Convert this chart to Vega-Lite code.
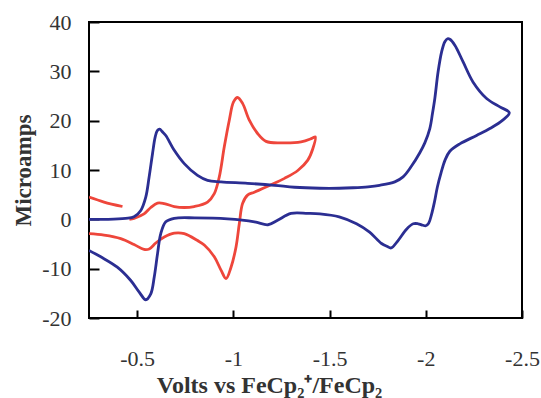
{
  "$schema": "https://vega.github.io/schema/vega-lite/v6.json",
  "autosize": {"type": "none"},
  "padding": {"left": 89, "top": 22, "right": 19, "bottom": 80},
  "width": 433,
  "height": 296,
  "background": "white",
  "config": {
    "view": {"stroke": "#000000", "strokeWidth": 2},
    "axis": {
      "labelFont": "Liberation Serif",
      "labelFontSize": 22,
      "labelColor": "#333333",
      "titleFont": "Liberation Serif",
      "titleFontWeight": "bold",
      "titleColor": "#333333",
      "grid": false,
      "domain": false,
      "tickColor": "#000000",
      "tickWidth": 2
    }
  },
  "data": {
    "values": [
      {"s": "blue", "seg": "b", "o": 1, "v": -0.25, "i": 0.0},
      {"s": "blue", "seg": "b", "o": 2, "v": -0.35, "i": 0.0},
      {"s": "blue", "seg": "b", "o": 3, "v": -0.44, "i": 0.2},
      {"s": "blue", "seg": "b", "o": 4, "v": -0.484, "i": 0.5},
      {"s": "blue", "seg": "b", "o": 5, "v": -0.519, "i": 1.8},
      {"s": "blue", "seg": "b", "o": 6, "v": -0.545, "i": 4.5},
      {"s": "blue", "seg": "b", "o": 7, "v": -0.5625, "i": 8.6},
      {"s": "blue", "seg": "b", "o": 8, "v": -0.58, "i": 13.3},
      {"s": "blue", "seg": "b", "o": 9, "v": -0.594, "i": 16.7},
      {"s": "blue", "seg": "b", "o": 10, "v": -0.605, "i": 18.0},
      {"s": "blue", "seg": "b", "o": 11, "v": -0.617, "i": 18.3},
      {"s": "blue", "seg": "b", "o": 12, "v": -0.63, "i": 17.8},
      {"s": "blue", "seg": "b", "o": 13, "v": -0.649, "i": 17.0},
      {"s": "blue", "seg": "b", "o": 14, "v": -0.693, "i": 14.0},
      {"s": "blue", "seg": "b", "o": 15, "v": -0.745, "i": 11.3},
      {"s": "blue", "seg": "b", "o": 16, "v": -0.814, "i": 8.9},
      {"s": "blue", "seg": "b", "o": 17, "v": -0.866, "i": 7.9},
      {"s": "blue", "seg": "b", "o": 18, "v": -0.936, "i": 7.6},
      {"s": "blue", "seg": "b", "o": 19, "v": -1.074, "i": 7.3},
      {"s": "blue", "seg": "b", "o": 20, "v": -1.214, "i": 6.9},
      {"s": "blue", "seg": "b", "o": 21, "v": -1.318, "i": 6.5},
      {"s": "blue", "seg": "b", "o": 22, "v": -1.45, "i": 6.3},
      {"s": "blue", "seg": "b", "o": 23, "v": -1.55, "i": 6.3},
      {"s": "blue", "seg": "b", "o": 24, "v": -1.622, "i": 6.4},
      {"s": "blue", "seg": "b", "o": 25, "v": -1.7, "i": 6.6},
      {"s": "blue", "seg": "b", "o": 26, "v": -1.76, "i": 6.9},
      {"s": "blue", "seg": "b", "o": 27, "v": -1.839, "i": 7.6},
      {"s": "blue", "seg": "b", "o": 28, "v": -1.882, "i": 8.6},
      {"s": "blue", "seg": "b", "o": 29, "v": -1.926, "i": 10.8},
      {"s": "blue", "seg": "b", "o": 30, "v": -1.969, "i": 13.5},
      {"s": "blue", "seg": "b", "o": 31, "v": -1.995, "i": 15.5},
      {"s": "blue", "seg": "b", "o": 32, "v": -2.021, "i": 18.4},
      {"s": "blue", "seg": "b", "o": 33, "v": -2.035, "i": 21.5},
      {"s": "blue", "seg": "b", "o": 34, "v": -2.047, "i": 24.5},
      {"s": "blue", "seg": "b", "o": 35, "v": -2.064, "i": 29.9},
      {"s": "blue", "seg": "b", "o": 36, "v": -2.082, "i": 33.9},
      {"s": "blue", "seg": "b", "o": 37, "v": -2.099, "i": 36.0},
      {"s": "blue", "seg": "b", "o": 38, "v": -2.113, "i": 36.6},
      {"s": "blue", "seg": "b", "o": 39, "v": -2.125, "i": 36.5},
      {"s": "blue", "seg": "b", "o": 40, "v": -2.151, "i": 35.3},
      {"s": "blue", "seg": "b", "o": 41, "v": -2.194, "i": 31.9},
      {"s": "blue", "seg": "b", "o": 42, "v": -2.246, "i": 27.8},
      {"s": "blue", "seg": "b", "o": 43, "v": -2.316, "i": 24.5},
      {"s": "blue", "seg": "b", "o": 44, "v": -2.385, "i": 22.8},
      {"s": "blue", "seg": "b", "o": 45, "v": -2.434, "i": 21.6},
      {"s": "blue", "seg": "b", "o": 46, "v": -2.4, "i": 20.1},
      {"s": "blue", "seg": "b", "o": 47, "v": -2.333, "i": 18.4},
      {"s": "blue", "seg": "b", "o": 48, "v": -2.264, "i": 17.0},
      {"s": "blue", "seg": "b", "o": 49, "v": -2.177, "i": 15.3},
      {"s": "blue", "seg": "b", "o": 50, "v": -2.125, "i": 13.8},
      {"s": "blue", "seg": "b", "o": 51, "v": -2.1, "i": 12.0},
      {"s": "blue", "seg": "b", "o": 52, "v": -2.08, "i": 9.5},
      {"s": "blue", "seg": "b", "o": 53, "v": -2.06, "i": 6.5},
      {"s": "blue", "seg": "b", "o": 54, "v": -2.045, "i": 3.5},
      {"s": "blue", "seg": "b", "o": 55, "v": -2.03, "i": 1.0},
      {"s": "blue", "seg": "b", "o": 56, "v": -2.015, "i": -0.8},
      {"s": "blue", "seg": "b", "o": 57, "v": -2.0, "i": -1.3},
      {"s": "blue", "seg": "b", "o": 58, "v": -1.985, "i": -1.2},
      {"s": "blue", "seg": "b", "o": 59, "v": -1.96, "i": -0.9},
      {"s": "blue", "seg": "b", "o": 60, "v": -1.935, "i": -0.9},
      {"s": "blue", "seg": "b", "o": 61, "v": -1.9, "i": -2.0},
      {"s": "blue", "seg": "b", "o": 62, "v": -1.856, "i": -4.3},
      {"s": "blue", "seg": "b", "o": 63, "v": -1.82, "i": -5.8},
      {"s": "blue", "seg": "b", "o": 64, "v": -1.8, "i": -5.5},
      {"s": "blue", "seg": "b", "o": 65, "v": -1.77, "i": -4.9},
      {"s": "blue", "seg": "b", "o": 66, "v": -1.708, "i": -2.6},
      {"s": "blue", "seg": "b", "o": 67, "v": -1.64, "i": -0.9},
      {"s": "blue", "seg": "b", "o": 68, "v": -1.55, "i": 0.5},
      {"s": "blue", "seg": "b", "o": 69, "v": -1.45, "i": 1.1},
      {"s": "blue", "seg": "b", "o": 70, "v": -1.387, "i": 1.2},
      {"s": "blue", "seg": "b", "o": 71, "v": -1.3, "i": 1.2},
      {"s": "blue", "seg": "b", "o": 72, "v": -1.23, "i": -0.2},
      {"s": "blue", "seg": "b", "o": 73, "v": -1.18, "i": -1.1},
      {"s": "blue", "seg": "b", "o": 74, "v": -1.11, "i": -0.5},
      {"s": "blue", "seg": "b", "o": 75, "v": -0.97, "i": 0.1},
      {"s": "blue", "seg": "b", "o": 76, "v": -0.8, "i": 0.3},
      {"s": "blue", "seg": "b", "o": 77, "v": -0.693, "i": 0.2},
      {"s": "blue", "seg": "b", "o": 78, "v": -0.649, "i": -0.5},
      {"s": "blue", "seg": "b", "o": 79, "v": -0.623, "i": -2.9},
      {"s": "blue", "seg": "b", "o": 80, "v": -0.606, "i": -7.0},
      {"s": "blue", "seg": "b", "o": 81, "v": -0.589, "i": -11.7},
      {"s": "blue", "seg": "b", "o": 82, "v": -0.571, "i": -15.1},
      {"s": "blue", "seg": "b", "o": 83, "v": -0.545, "i": -16.3},
      {"s": "blue", "seg": "b", "o": 84, "v": -0.51, "i": -14.7},
      {"s": "blue", "seg": "b", "o": 85, "v": -0.467, "i": -12.4},
      {"s": "blue", "seg": "b", "o": 86, "v": -0.397, "i": -9.7},
      {"s": "blue", "seg": "b", "o": 87, "v": -0.311, "i": -7.6},
      {"s": "blue", "seg": "b", "o": 88, "v": -0.25, "i": -6.3},

      {"s": "red", "seg": "ra", "o": 1, "v": -0.25, "i": 4.5},
      {"s": "red", "seg": "ra", "o": 2, "v": -0.328, "i": 3.5},
      {"s": "red", "seg": "ra", "o": 3, "v": -0.424, "i": 2.6},

      {"s": "red", "seg": "rb", "o": 1, "v": -0.46, "i": 0.0},
      {"s": "red", "seg": "rb", "o": 2, "v": -0.484, "i": 0.2},
      {"s": "red", "seg": "rb", "o": 3, "v": -0.536, "i": 1.1},
      {"s": "red", "seg": "rb", "o": 4, "v": -0.571, "i": 2.4},
      {"s": "red", "seg": "rb", "o": 5, "v": -0.606, "i": 3.3},
      {"s": "red", "seg": "rb", "o": 6, "v": -0.641, "i": 3.2},
      {"s": "red", "seg": "rb", "o": 7, "v": -0.693, "i": 2.6},
      {"s": "red", "seg": "rb", "o": 8, "v": -0.745, "i": 2.4},
      {"s": "red", "seg": "rb", "o": 9, "v": -0.797, "i": 2.6},
      {"s": "red", "seg": "rb", "o": 10, "v": -0.866, "i": 3.5},
      {"s": "red", "seg": "rb", "o": 11, "v": -0.901, "i": 5.2},
      {"s": "red", "seg": "rb", "o": 12, "v": -0.927, "i": 8.6},
      {"s": "red", "seg": "rb", "o": 13, "v": -0.953, "i": 14.7},
      {"s": "red", "seg": "rb", "o": 14, "v": -0.979, "i": 20.1},
      {"s": "red", "seg": "rb", "o": 15, "v": -1.001, "i": 23.8},
      {"s": "red", "seg": "rb", "o": 16, "v": -1.022, "i": 24.7},
      {"s": "red", "seg": "rb", "o": 17, "v": -1.048, "i": 23.5},
      {"s": "red", "seg": "rb", "o": 18, "v": -1.083, "i": 20.1},
      {"s": "red", "seg": "rb", "o": 19, "v": -1.126, "i": 17.4},
      {"s": "red", "seg": "rb", "o": 20, "v": -1.17, "i": 15.8},
      {"s": "red", "seg": "rb", "o": 21, "v": -1.248, "i": 15.5},
      {"s": "red", "seg": "rb", "o": 22, "v": -1.352, "i": 15.7},
      {"s": "red", "seg": "rb", "o": 23, "v": -1.408, "i": 16.4},
      {"s": "red", "seg": "rb", "o": 24, "v": -1.426, "i": 16.7},
      {"s": "red", "seg": "rb", "o": 25, "v": -1.413, "i": 14.3},
      {"s": "red", "seg": "rb", "o": 26, "v": -1.387, "i": 12.0},
      {"s": "red", "seg": "rb", "o": 27, "v": -1.335, "i": 9.9},
      {"s": "red", "seg": "rb", "o": 28, "v": -1.266, "i": 8.3},
      {"s": "red", "seg": "rb", "o": 29, "v": -1.196, "i": 7.0},
      {"s": "red", "seg": "rb", "o": 30, "v": -1.109, "i": 5.5},
      {"s": "red", "seg": "rb", "o": 31, "v": -1.074, "i": 4.9},
      {"s": "red", "seg": "rb", "o": 32, "v": -1.048, "i": 3.2},
      {"s": "red", "seg": "rb", "o": 33, "v": -1.031, "i": -0.9},
      {"s": "red", "seg": "rb", "o": 34, "v": -1.014, "i": -5.6},
      {"s": "red", "seg": "rb", "o": 35, "v": -0.988, "i": -9.7},
      {"s": "red", "seg": "rb", "o": 36, "v": -0.962, "i": -12.0},
      {"s": "red", "seg": "rb", "o": 37, "v": -0.936, "i": -10.3},
      {"s": "red", "seg": "rb", "o": 38, "v": -0.901, "i": -7.6},
      {"s": "red", "seg": "rb", "o": 39, "v": -0.849, "i": -5.2},
      {"s": "red", "seg": "rb", "o": 40, "v": -0.814, "i": -4.3},
      {"s": "red", "seg": "rb", "o": 41, "v": -0.745, "i": -2.9},
      {"s": "red", "seg": "rb", "o": 42, "v": -0.693, "i": -2.8},
      {"s": "red", "seg": "rb", "o": 43, "v": -0.641, "i": -3.6},
      {"s": "red", "seg": "rb", "o": 44, "v": -0.597, "i": -4.8},
      {"s": "red", "seg": "rb", "o": 45, "v": -0.563, "i": -6.0},
      {"s": "red", "seg": "rb", "o": 46, "v": -0.536, "i": -6.1},
      {"s": "red", "seg": "rb", "o": 47, "v": -0.484, "i": -5.1},
      {"s": "red", "seg": "rb", "o": 48, "v": -0.415, "i": -3.9},
      {"s": "red", "seg": "rb", "o": 49, "v": -0.328, "i": -3.2},
      {"s": "red", "seg": "rb", "o": 50, "v": -0.25, "i": -2.9}
    ]
  },
  "encoding": {
    "x": {
      "field": "v",
      "type": "quantitative",
      "scale": {"domain": [-2.5, -0.25], "reverse": true, "nice": false, "zero": false},
      "axis": {
        "title": "Volts vs FeCp₂⁺/FeCp₂",
        "titleFontSize": 24,
        "titleX": 180,
        "titlePadding": 4,
        "values": [-0.5, -1, -1.5, -2, -2.5],
        "labelExpr": "'' + datum.value",
        "tickSize": -8,
        "labelPadding": 38,
        "labelFlush": false,
        "labelOverlap": false
      }
    },
    "y": {
      "field": "i",
      "type": "quantitative",
      "scale": {"domain": [-20, 40], "nice": false, "zero": false},
      "axis": {
        "title": "Microamps",
        "titleFontSize": 23,
        "titlePadding": 6,
        "values": [-20, -10, 0, 10, 20, 30, 40],
        "labelExpr": "'' + datum.value",
        "tickSize": -10,
        "labelPadding": 28,
        "labelFlush": false,
        "labelOverlap": false
      }
    },
    "order": {"field": "o", "type": "quantitative"},
    "detail": {"field": "seg"}
  },
  "layer": [
    {
      "transform": [{"filter": "datum.s === 'red'"}],
      "mark": {"type": "line", "color": "#ee463b", "strokeWidth": 2.8, "interpolate": "catmull-rom", "clip": true}
    },
    {
      "transform": [{"filter": "datum.s === 'blue'"}],
      "mark": {"type": "line", "color": "#2b2e92", "strokeWidth": 2.8, "interpolate": "catmull-rom", "clip": true}
    }
  ]
}
